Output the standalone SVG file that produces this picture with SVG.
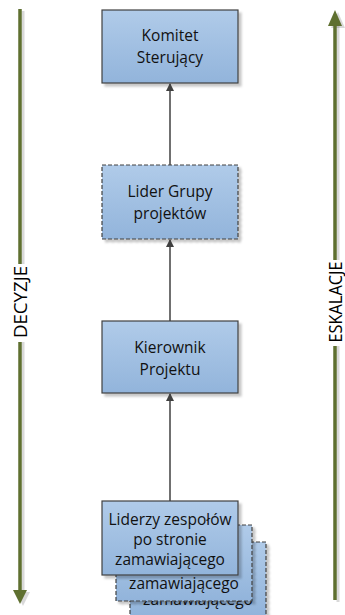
<svg xmlns="http://www.w3.org/2000/svg" width="345" height="615" viewBox="0 0 345 615">
<defs>
<linearGradient id="fillg" x1="0" y1="0" x2="0" y2="1">
<stop offset="0" stop-color="#b0cbe9"/>
<stop offset="1" stop-color="#92b4db"/>
</linearGradient>
<filter id="sh" x="-10%" y="-10%" width="130%" height="130%">
<feDropShadow dx="3" dy="3" stdDeviation="1.2" flood-color="#000" flood-opacity="0.22"/>
</filter>
<marker id="ah" markerWidth="8" markerHeight="8" refX="7" refY="4" orient="auto" markerUnits="userSpaceOnUse">
<path d="M0,0 L8,4 L0,8 Z" fill="#404040"/>
</marker>
</defs>
<style>
.box{fill:url(#fillg);stroke:#404040;stroke-width:1.2;filter:url(#sh)}
.dash{stroke-dasharray:4 2}
.t{font-family:"Open Sans","Liberation Sans",sans-serif;font-size:15.5px;fill:#111;text-anchor:middle}
.big{font-family:"Open Sans","Liberation Sans",sans-serif;font-size:18px;fill:#000;text-anchor:middle}
.conn{stroke:#404040;stroke-width:1.5;fill:none}
.side{stroke:#5f7030;stroke-width:3.5;fill:none}
.sides{stroke:#000;stroke-opacity:0.15;stroke-width:3;fill:none}
.sideh{fill:#5f7030}
.sidehs{fill:#000;fill-opacity:0.15}
</style>

<g id="side-left">
<path class="sides" d="M23,11 V264 M23,342 V592"/>
<polygon class="sidehs" points="16,592 30,592 23,606"/>
<path class="side" d="M20,9 V264 M20,342 V592"/>
<polygon class="sideh" points="13,590 27,590 20,604"/>
<text class="big" transform="translate(26.5,302) rotate(-90)" textLength="72" lengthAdjust="spacingAndGlyphs">DECYZJE</text>
</g>
<g id="side-right">
<path class="sides" d="M338,26 V260 M338,346 V602"/>
<polygon class="sidehs" points="331,28 345,28 338,12"/>
<path class="side" d="M335,24 V260 M335,346 V600"/>
<polygon class="sideh" points="328,26 342,26 335,10"/>
<text class="big" transform="translate(341.5,302) rotate(-90)" textLength="81" lengthAdjust="spacingAndGlyphs">ESKALACJE</text>
</g>

<g id="node-liderzy-3">
<rect class="box dash" x="130" y="542" width="136" height="74"/>
<text class="t" x="198" y="605">zamawiającego</text>
</g>
<g id="node-liderzy-2">
<rect class="box dash" x="116" y="525" width="136" height="76"/>
<text class="t" x="184" y="589">zamawiającego</text>
</g>
<g id="node-liderzy">
<rect class="box" x="102" y="501" width="136" height="74"/>
<text class="t" x="170" y="525">Liderzy zespołów</text>
<text class="t" x="170" y="545">po stronie</text>
<text class="t" x="170" y="565">zamawiającego</text>
</g>

<g id="node-komitet">
<rect class="box" x="102" y="10" width="136" height="73"/>
<text class="t" x="170" y="41">Komitet</text>
<text class="t" x="170" y="63">Sterujący</text>
</g>
<g id="node-lider-grupy">
<rect class="box dash" x="102" y="165" width="136" height="74"/>
<text class="t" x="170" y="197">Lider Grupy</text>
<text class="t" x="170" y="219">projektów</text>
</g>
<g id="node-kierownik">
<rect class="box" x="102" y="321" width="136" height="72"/>
<text class="t" x="170" y="353">Kierownik</text>
<text class="t" x="170" y="375">Projektu</text>
</g>

<g id="connectors">
<line class="conn" x1="170" y1="165" x2="170" y2="84" marker-end="url(#ah)"/>
<line class="conn" x1="170" y1="321" x2="170" y2="240" marker-end="url(#ah)"/>
<line class="conn" x1="170" y1="501" x2="170" y2="394" marker-end="url(#ah)"/>
</g>
</svg>
